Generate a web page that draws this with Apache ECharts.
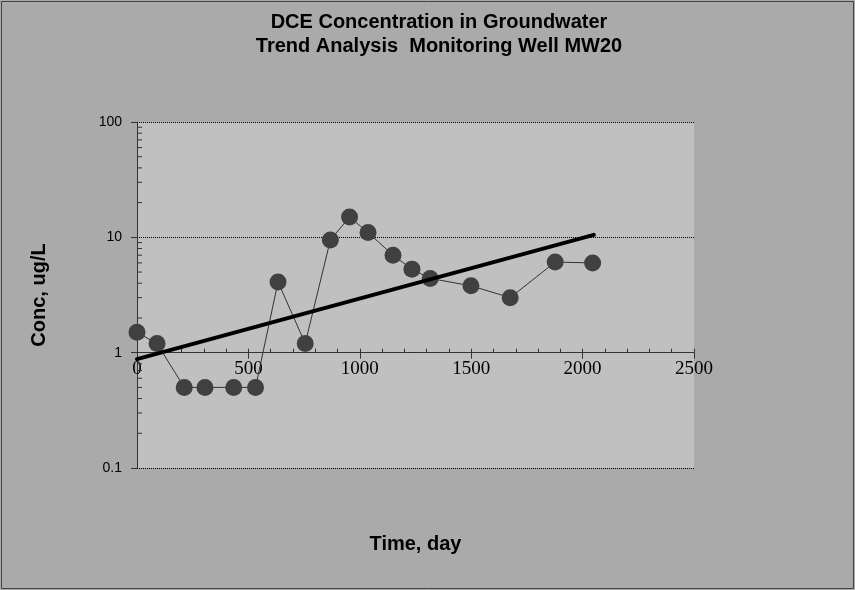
<!DOCTYPE html>
<html>
<head>
<meta charset="utf-8">
<script src="https://cdn.jsdelivr.net/npm/echarts@6/dist/echarts.min.js"></script>
<style>
html,body{margin:0;padding:0;background:#aaaaaa;}
#chart{width:855px;height:590px;}
</style>
</head>
<body>
<div id="chart"></div>
<script>
// ---- data ----
var titleLines = ['DCE Concentration in Groundwater', 'Trend Analysis  Monitoring Well MW20'];
var xAxisName = 'Time, day';
var yAxisName = 'Conc, ug/L';
var days = [0, 90, 212, 305, 434, 532, 633, 755, 868, 954, 1037, 1149, 1234, 1316, 1499, 1675, 1877, 2045];
var conc = [1.5, 1.2, 0.5, 0.5, 0.5, 0.5, 4.1, 1.2, 9.5, 15, 11, 7.0, 5.3, 4.4, 3.8, 3.0, 6.1, 6.0];
var trendDays = [0, 2050];
var trendConc = [0.88, 10.5];
var xTicks = [0, 500, 1000, 1500, 2000, 2500];
var yTicks = [0.1, 1, 10, 100];
var yMinorTicks = [0.2, 0.3, 0.4, 0.5, 0.6, 0.7, 0.8, 0.9, 2, 3, 4, 5, 6, 7, 8, 9, 20, 30, 40, 50, 60, 70, 80, 90];

// ---- layout ----
var G = {left: 137, top: 122, width: 557, height: 346};
var xCross = 1; // x axis crosses y at 1
var yMin = yTicks[0], yMax = yTicks[yTicks.length - 1];
var xOffset = -G.height * (Math.log10(xCross) - Math.log10(yMin)) / (Math.log10(yMax) - Math.log10(yMin));

var chart = echarts.init(document.getElementById('chart'), null, {renderer: 'canvas'});

var option = {
  backgroundColor: '#aaaaaa',
  animation: false,
  title: {
    text: titleLines.join('\n'),
    left: 434,
    textAlign: 'center',
    top: 5,
    textStyle: {fontFamily: 'Liberation Sans, Arial', fontWeight: 'bold', fontSize: 20, lineHeight: 24, color: '#000'}
  },
  grid: {left: G.left, top: G.top, width: G.width, height: G.height, show: true, backgroundColor: '#c0c0c0', borderWidth: 0, containLabel: false},
  xAxis: [{
    type: 'value', min: xTicks[0], max: xTicks[xTicks.length - 1], interval: 500,
    position: 'bottom', offset: xOffset,
    name: xAxisName, nameLocation: 'middle', nameGap: 182,
    nameTextStyle: {fontFamily: 'Liberation Sans, Arial', fontWeight: 'bold', fontSize: 20, color: '#000'},
    axisLine: {show: true, lineStyle: {color: '#333', width: 1}},
    axisTick: {show: true, inside: false, length: 6, lineStyle: {color: '#333'}},
    axisLabel: {fontFamily: 'Liberation Serif, Times New Roman', fontSize: 19, color: '#000', margin: 7,
      formatter: function (v) { return String(v); }},
    splitLine: {show: false}
  }, {
    type: 'value', min: xTicks[0], max: xTicks[xTicks.length - 1], interval: 500,
    position: 'bottom', offset: xOffset,
    axisLine: {show: false},
    axisTick: {show: true, inside: true, length: 4, lineStyle: {color: '#333'}},
    minorTick: {show: true, splitNumber: 5, length: 4, lineStyle: {color: '#333'}},
    axisLabel: {show: false},
    splitLine: {show: false}
  }],
  yAxis: {
    type: 'log', logBase: 10, min: yMin, max: yMax,
    name: yAxisName, nameLocation: 'middle', nameGap: 88, nameRotate: 90,
    nameTextStyle: {fontFamily: 'Liberation Sans, Arial', fontWeight: 'bold', fontSize: 20, color: '#000'},
    axisLine: {show: true, lineStyle: {color: '#333', width: 1}},
    axisTick: {show: true, inside: false, length: 6, lineStyle: {color: '#333'}},
    axisLabel: {fontFamily: 'Liberation Sans, Arial', fontSize: 14, color: '#000', margin: 15,
      formatter: function (v) { return String(+v.toPrecision(3)); }},
    splitLine: {show: true, lineStyle: {color: '#000', type: [1, 1], width: 1}}
  },
  series: [{
    type: 'custom',
    xAxisIndex: 0, yAxisIndex: 0,
    silent: true,
    data: yMinorTicks.map(function (v) { return [0, v]; }),
    renderItem: function (params, api) {
      var p = api.coord([api.value(0), api.value(1)]);
      return {type: 'line', shape: {x1: p[0], y1: p[1], x2: p[0] + 5, y2: p[1]}, style: {stroke: '#333', lineWidth: 1}};
    },
    z: 3
  }, {
    type: 'line',
    xAxisIndex: 0,
    data: days.map(function (d, i) { return [d, conc[i]]; }),
    symbol: 'circle', symbolSize: 17,
    itemStyle: {color: '#404040'},
    lineStyle: {color: '#333', width: 1},
    z: 4
  }, {
    type: 'line',
    xAxisIndex: 0,
    data: trendDays.map(function (d, i) { return [d, trendConc[i]]; }),
    symbol: 'none',
    lineStyle: {color: '#000', width: 4, cap: 'round'},
    z: 5
  }],
  graphic: [{
    type: 'rect', shape: {x: 1.5, y: 1.5, width: 852, height: 587},
    style: {fill: 'none', stroke: '#444', lineWidth: 1}, silent: true
  }]
};
chart.setOption(option);
</script>
</body>
</html>
